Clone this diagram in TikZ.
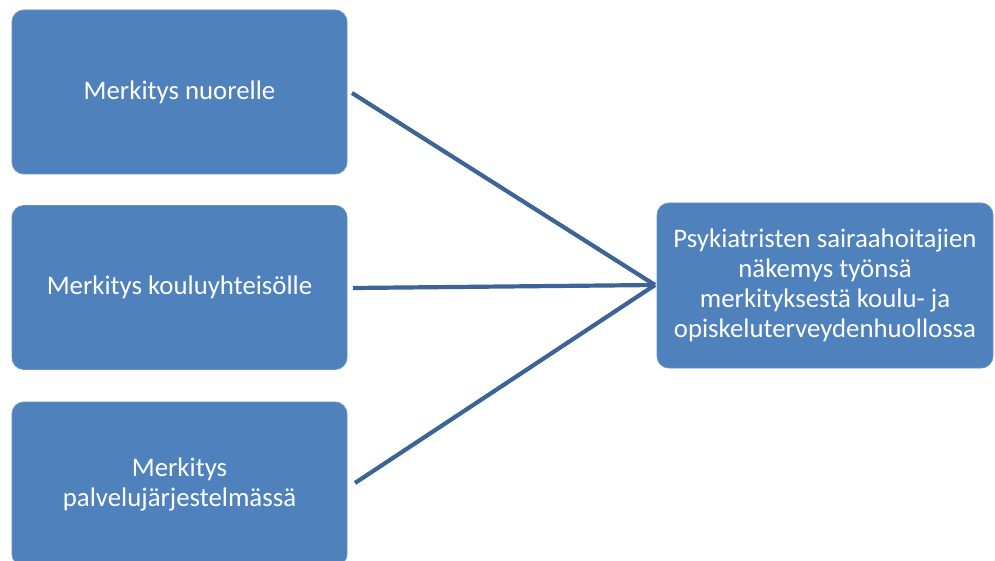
\documentclass[tikz,border=0pt]{standalone}
\usepackage{fontspec}
\setmainfont{Carlito}
\definecolor{boxfill}{RGB}{79,129,189}
\definecolor{boxedge}{RGB}{100,145,200}
\definecolor{linkcol}{RGB}{60,100,150}
\begin{document}
\begin{tikzpicture}[x=1pt,y=-1pt,
  blockbox/.style={draw=boxedge, line width=0.8pt, fill=boxfill, rounded corners=12pt,
    text=white, font=\fontsize{26.8}{30}\selectfont, align=center, inner sep=0pt},
  link/.style={draw=linkcol, line width=4.2pt}]
\useasboundingbox (0,0) rectangle (995,561);
\begin{scope}
\clip (0,0) rectangle (995,561);
\node[blockbox, minimum width=335pt, minimum height=164pt] (a) at (179.5,92) {Merkitys nuorelle};
\node[blockbox, minimum width=335pt, minimum height=164pt] (b) at (179.5,287.5) {Merkitys kouluyhteisölle};
\node[blockbox, minimum width=335pt, minimum height=164pt] (c) at (179.5,484) {Merkitys\\palvelujärjestelmässä};
\node[blockbox, minimum width=336pt, minimum height=165pt] (d) at (825,285.5) {Psykiatristen sairaahoitajien\\näkemys työnsä\\merkityksestä koulu- ja\\opiskeluterveydenhuollossa};
\coordinate (m) at (655,285);
\coordinate (a1) at (352,93);
\coordinate (b1) at (353,288);
\coordinate (c1) at (355,483);
\draw[link] (a1) -- (m);
\draw[link] (b1) -- (m);
\draw[link] (c1) -- (m);
\end{scope}
\end{tikzpicture}
\end{document}
